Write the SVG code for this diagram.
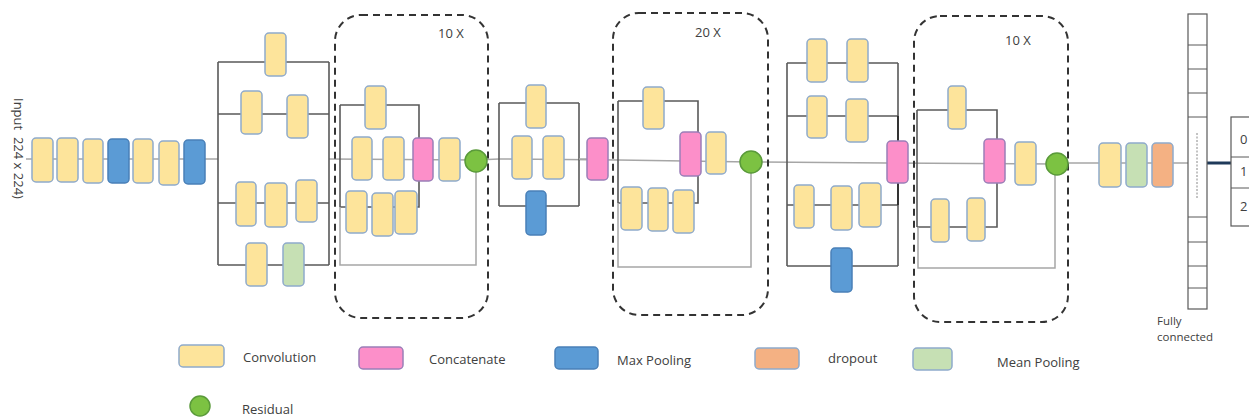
<svg xmlns="http://www.w3.org/2000/svg" width="1249" height="417" viewBox="0 0 1249 417">
<style>
.cv{fill:#fde49b;stroke:#8faacb;stroke-width:1.5}
.mp{fill:#5b9bd5;stroke:#4a80b8;stroke-width:1.5}
.cc{fill:#fc8fc9;stroke:#9a7fb8;stroke-width:1.5}
.mn{fill:#c6e0b4;stroke:#8faacb;stroke-width:1.5}
.dr{fill:#f4b183;stroke:#8faacb;stroke-width:1.5}
.rs{fill:#7cc242;stroke:#5a9a3a;stroke-width:1.5}
.dk{fill:none;stroke:#595959;stroke-width:1.6}
.lt{fill:none;stroke:#a6a6a6;stroke-width:1.5}
.dash{fill:none;stroke:#333;stroke-width:2;stroke-dasharray:7,5}
.t{font-family:"Open Sans","Liberation Sans",sans-serif;font-size:13px;fill:#404040}
.s{font-size:11.5px}
.fc{fill:#fff;stroke:#595959;stroke-width:1.2}
</style>
<rect width="1249" height="417" fill="#fff"/>

<g id="connectors">
  <line class="lt" x1="26" y1="159" x2="218" y2="159"/>
  <line class="lt" x1="329" y1="159" x2="476" y2="160"/>
  <line class="lt" x1="476" y1="160" x2="499" y2="159"/>
  <line class="lt" x1="499" y1="159" x2="618" y2="160"/>
  <line class="lt" x1="618" y1="160" x2="751" y2="162"/>
  <line class="lt" x1="751" y1="162" x2="887" y2="163"/>
  <line class="lt" x1="887" y1="163" x2="1057" y2="164"/>
  <line class="lt" x1="1057" y1="163" x2="1188" y2="163"/>
  <path class="dk" d="M218 62 V265 M329 62 V265 M218 62 H329 M218 114 H329 M218 203 H329 M218 265 H329"/>
  <path class="dk" d="M340 105 H419 V207 H340 M340 105 V207"/>
  <path class="lt" d="M476 161 V265 H340 V207"/>
  <path class="dk" d="M499 103 V206 M579 103 V206 M499 103 H579 M499 206 H579"/>
  <line class="lt" x1="579" y1="159" x2="587" y2="159"/>
  <path class="dk" d="M618 101 H698 V203 H618 M618 101 V203"/>
  <path class="lt" d="M751 162 V267 H618 V203"/>
  <path class="dk" d="M787 63 V266 M898 63 V266 M787 63 H898 M787 116 H898 M787 205 H898 M787 266 H898"/>
  <line stroke="#222" stroke-width="1.6" x1="898" y1="116" x2="898" y2="205"/>
  <path class="dk" d="M917 110 H997 V227 H917 M917 110 V227"/>
  <path class="lt" d="M1055 164 V268 H918 V227"/>
  <line stroke="#1f3a5a" stroke-width="3" x1="1207" y1="163" x2="1232" y2="163"/>
</g>

<g id="input-label">
  <text class="t" transform="translate(14,98) rotate(90)" style="white-space:pre" xml:space="preserve">Input  224 x 224)</text>
</g>

<g id="stem">
  <rect class="cv" x="32" y="138" width="21" height="44" rx="4"/>
  <rect class="cv" x="57" y="138" width="21" height="44" rx="4"/>
  <rect class="cv" x="83" y="139" width="20" height="44" rx="4"/>
  <rect class="mp" x="108" y="139" width="21" height="44" rx="4"/>
  <rect class="cv" x="133" y="139" width="20" height="44" rx="4"/>
  <rect class="cv" x="159" y="141" width="20" height="44" rx="4"/>
  <rect class="mp" x="184" y="140" width="21" height="44" rx="4"/>
</g>

<g id="inception-a">
  <rect class="cv" x="265" y="33" width="21" height="43" rx="4"/>
  <rect class="cv" x="241" y="91" width="21" height="43" rx="4"/>
  <rect class="cv" x="287" y="95" width="21" height="43" rx="4"/>
  <rect class="cv" x="236" y="182" width="20" height="44" rx="4"/>
  <rect class="cv" x="265" y="183" width="22" height="44" rx="4"/>
  <rect class="cv" x="296" y="180" width="21" height="42" rx="4"/>
  <rect class="cv" x="246" y="243" width="21" height="43" rx="4"/>
  <rect class="mn" x="283" y="243" width="21" height="43" rx="4"/>
</g>

<g id="repeat-10x-a">
  <rect class="dash" x="335" y="15" width="153" height="303" rx="26"/>
  <text class="t" x="438" y="38">10 X</text>
  <rect class="cv" x="365" y="86" width="21" height="43" rx="4"/>
  <rect class="cv" x="352" y="137" width="20" height="43" rx="4"/>
  <rect class="cv" x="383" y="137" width="21" height="43" rx="4"/>
  <rect class="cc" x="413" y="138" width="20" height="43" rx="4"/>
  <rect class="cv" x="439" y="138" width="21" height="43" rx="4"/>
  <circle class="rs" cx="476" cy="161" r="11"/>
  <rect class="cv" x="346" y="191" width="21" height="42" rx="4"/>
  <rect class="cv" x="372" y="193" width="21" height="43" rx="4"/>
  <rect class="cv" x="395" y="191" width="22" height="43" rx="4"/>
</g>

<g id="reduction-a">
  <rect class="cv" x="526" y="85" width="20" height="43" rx="4"/>
  <rect class="cv" x="512" y="136" width="20" height="43" rx="4"/>
  <rect class="cv" x="543" y="136" width="21" height="43" rx="4"/>
  <rect class="mp" x="526" y="191" width="20" height="44" rx="4"/>
  <rect class="cc" x="587" y="138" width="21" height="42" rx="4"/>
</g>

<g id="repeat-20x">
  <rect class="dash" x="613" y="13" width="155" height="302" rx="26"/>
  <text class="t" x="695" y="37">20 X</text>
  <rect class="cv" x="643" y="87" width="21" height="42" rx="4"/>
  <rect class="cc" x="680" y="132" width="21" height="44" rx="4"/>
  <rect class="cv" x="706" y="132" width="20" height="42" rx="4"/>
  <circle class="rs" cx="751" cy="162" r="11"/>
  <rect class="cv" x="621" y="187" width="21" height="43" rx="4"/>
  <rect class="cv" x="648" y="188" width="20" height="43" rx="4"/>
  <rect class="cv" x="673" y="190" width="21" height="43" rx="4"/>
</g>

<g id="reduction-b">
  <rect class="cv" x="807" y="39" width="20" height="43" rx="4"/>
  <rect class="cv" x="847" y="39" width="21" height="43" rx="4"/>
  <rect class="cv" x="807" y="96" width="20" height="42" rx="4"/>
  <rect class="cv" x="846" y="99" width="22" height="43" rx="4"/>
  <rect class="cv" x="794" y="185" width="20" height="43" rx="4"/>
  <rect class="cv" x="831" y="186" width="21" height="44" rx="4"/>
  <rect class="cv" x="859" y="183" width="22" height="44" rx="4"/>
  <rect class="mp" x="831" y="248" width="21" height="44" rx="4"/>
  <rect class="cc" x="887" y="141" width="21" height="42" rx="4"/>
</g>

<g id="repeat-10x-b">
  <rect class="dash" x="914" y="16" width="154" height="306" rx="26"/>
  <text class="t" x="1005" y="45">10 X</text>
  <rect class="cv" x="948" y="86" width="18" height="43" rx="4"/>
  <rect class="cc" x="984" y="139" width="21" height="44" rx="4"/>
  <rect class="cv" x="1015" y="142" width="21" height="43" rx="4"/>
  <circle class="rs" cx="1057" cy="164" r="11"/>
  <rect class="cv" x="931" y="199" width="18" height="43" rx="4"/>
  <rect class="cv" x="967" y="198" width="18" height="43" rx="4"/>
</g>

<g id="head">
  <rect class="cv" x="1099" y="143" width="22" height="44" rx="4"/>
  <rect class="mn" x="1126" y="143" width="21" height="44" rx="4"/>
  <rect class="dr" x="1152" y="143" width="21" height="44" rx="4"/>
</g>

<g id="fully-connected">
  <rect class="fc" x="1188" y="14" width="19" height="295"/>
  <path stroke="#595959" stroke-width="1" d="M1188 45H1207M1188 69H1207M1188 93H1207M1188 117H1207M1188 217H1207M1188 242H1207M1188 266H1207M1188 288H1207"/>
  <line stroke="#888" stroke-width="1" stroke-dasharray="2,1.5" x1="1197" y1="133" x2="1197" y2="198"/>
  <text class="t s" x="1157" y="325">Fully</text>
  <text class="t s" x="1157" y="341">connected</text>
</g>

<g id="output">
  <rect class="fc" x="1231" y="117" width="30" height="109"/>
  <path stroke="#595959" stroke-width="1" d="M1231 157H1249M1231 188H1249"/>
  <text class="t" x="1240" y="144">0</text>
  <text class="t" x="1240" y="176">1</text>
  <text class="t" x="1240" y="211">2</text>
</g>

<g id="legend">
  <rect class="cv" x="179" y="345" width="45" height="22" rx="4"/>
  <text class="t" x="243" y="362">Convolution</text>
  <rect class="cc" x="359" y="347" width="44" height="22" rx="4"/>
  <text class="t" x="429" y="364">Concatenate</text>
  <rect class="mp" x="555" y="347" width="43" height="22" rx="4"/>
  <text class="t" x="617" y="365">Max Pooling</text>
  <rect class="dr" x="755" y="348" width="44" height="21" rx="4"/>
  <text class="t" x="828" y="363">dropout</text>
  <rect class="mn" x="913" y="348" width="39" height="22" rx="4"/>
  <text class="t" x="997" y="367">Mean Pooling</text>
  <circle class="rs" cx="200" cy="406" r="10"/>
  <text class="t" x="242" y="414">Residual</text>
</g>
</svg>
